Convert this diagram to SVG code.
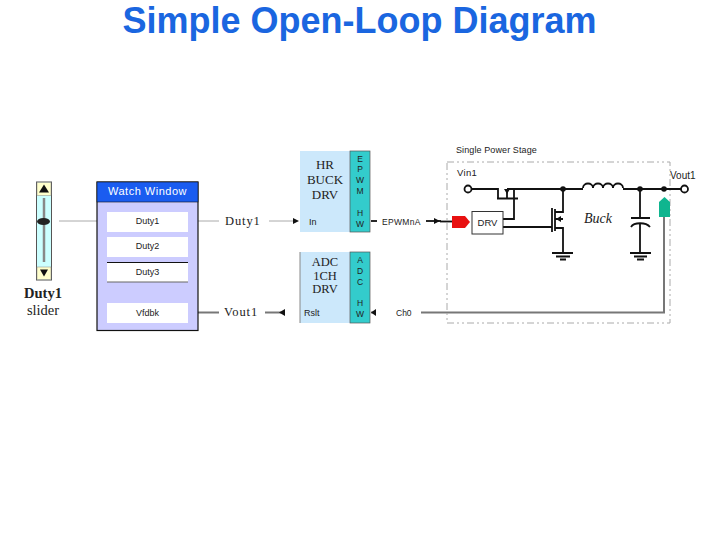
<svg xmlns="http://www.w3.org/2000/svg" width="720" height="540" viewBox="0 0 720 540">
<style>
.s{font-family:"Liberation Serif",serif;fill:#222}
.a{font-family:"Liberation Sans",sans-serif;fill:#222}
.w{stroke:#111;stroke-width:1.800;fill:none}
.g{stroke:#777;stroke-width:2;fill:none}
.t{stroke:#aaa;stroke-width:1;fill:none}
.h{fill:#111}
.box{fill:#fff}
</style>
<rect width="720" height="540" fill="#fff"/>
<text x="359.500" y="33" text-anchor="middle" font-family="Liberation Sans, sans-serif" font-weight="bold" font-size="36" fill="#1a66e0">Simple Open-Loop Diagram</text>

<g id="connectors">
<path class="t" d="M59 221H100"/><path class="h" d="M100 218l6 3-6 3z"/>
<path class="t" d="M188 221H219"/>
<path class="g" d="M188 312.500H219"/>
<path class="t" d="M269 221H294"/><path class="h" d="M293 218l6 3-6 3z"/>
<path class="g" d="M265 312.500H281"/><path class="h" d="M285 309l-6 3.500 6 3.500z"/>
<path class="w" d="M371 221H377"/>
<path class="w" d="M426 221H441"/><path class="h" d="M434 218l6 3-6 3z"/>
<path class="w" d="M440 221.500H453"/>
<path class="g" d="M371 312.500H376"/><path class="h" d="M376 309l-5 3.500 5 3.500z"/>
<path class="g" d="M421 312.500H664V217"/>
</g>

<g id="slider">
<rect x="36.500" y="182" width="15" height="98" fill="#ccffff" stroke="#555"/>
<rect x="37" y="182.500" width="14" height="13" fill="#ffffcc" stroke="#888" stroke-width=".5"/>
<rect x="37" y="267" width="14" height="12.500" fill="#ffffcc" stroke="#888" stroke-width=".5"/>
<path class="h" d="M44 184.500l5 8h-10z"/><path class="h" d="M40 269.500h8l-4 7z"/>
<path stroke="#888" stroke-width="2.500" d="M44 198V262"/>
<ellipse cx="43.500" cy="221.500" rx="6.500" ry="3.500" fill="#222"/>
<text class="s" x="43" y="298" text-anchor="middle" font-size="14.500" font-weight="bold">Duty1</text>
<text class="s" x="43" y="315" text-anchor="middle" font-size="14.500">slider</text>
</g>

<g id="watch-window">
<rect x="97" y="182" width="101" height="148.500" fill="#ccccff" stroke="#111" stroke-width="1.200"/>
<rect x="97" y="182" width="101" height="20" fill="#1a5cf0" stroke="#111" stroke-width=".6"/>
<text x="147.500" y="195" text-anchor="middle" font-family="Liberation Sans, sans-serif" font-size="11" fill="#fff" letter-spacing=".5">Watch Window</text>
<rect class="box" x="107" y="212" width="81" height="20"/>
<rect class="box" x="107" y="237" width="81" height="20"/>
<rect class="box" x="107" y="262" width="81" height="20"/>
<path stroke="#111" d="M107 262.500H188"/><path stroke="#666" d="M107 282H188"/>
<rect class="box" x="107" y="303" width="81" height="20"/>
<text class="a" x="147.500" y="224" text-anchor="middle" font-size="9">Duty1</text>
<text class="a" x="147.500" y="249" text-anchor="middle" font-size="9">Duty2</text>
<text class="a" x="147.500" y="275" text-anchor="middle" font-size="9">Duty3</text>
<text class="a" x="147.500" y="316" text-anchor="middle" font-size="9">Vfdbk</text>
</g>

<g id="label-duty1"><text class="s" x="225" y="225" font-size="12.500" letter-spacing=".9">Duty1</text></g>
<g id="label-vout1-left"><text class="s" x="224" y="316" font-size="12.500" letter-spacing=".9">Vout1</text></g>

<g id="hr-buck-drv">
<rect x="300" y="151" width="50" height="81" fill="#cce8fb"/>
<rect x="350" y="151" width="20" height="81" fill="#33cccc" stroke="#555" stroke-width=".7"/>
<text class="s" x="325" y="169" text-anchor="middle" font-size="13">HR</text>
<text class="s" x="325" y="184" text-anchor="middle" font-size="13">BUCK</text>
<text class="s" x="325" y="199" text-anchor="middle" font-size="13">DRV</text>
<text class="a" x="309" y="225" font-size="9" fill="#555">In</text>
<g class="a" font-size="8.500" text-anchor="middle">
<text x="360" y="162">E</text><text x="360" y="172">P</text><text x="360" y="183">W</text><text x="360" y="194">M</text>
<text x="360" y="216">H</text><text x="360" y="227">W</text>
</g>
</g>

<g id="adc-drv">
<rect x="300" y="252" width="50" height="71" fill="#cce8fb"/>
<path stroke="#888" d="M300 252V323"/>
<rect x="350" y="252" width="20" height="71" fill="#33cccc" stroke="#555" stroke-width=".7"/>
<text class="s" x="325" y="266" text-anchor="middle" font-size="12.500">ADC</text>
<text class="s" x="325" y="280" text-anchor="middle" font-size="12.500">1CH</text>
<text class="s" x="325" y="293" text-anchor="middle" font-size="12.500">DRV</text>
<text class="a" x="304" y="316" font-size="9">Rslt</text>
<g class="a" font-size="8.500" text-anchor="middle">
<text x="360" y="263">A</text><text x="360" y="274">D</text><text x="360" y="285">C</text>
<text x="360" y="306">H</text><text x="360" y="317">W</text>
</g>
</g>

<g id="label-epwm"><text class="a" x="382" y="225" font-size="8.500" fill="#444" letter-spacing=".3">EPWMnA</text></g>
<g id="label-ch0"><text class="a" x="396" y="316" font-size="8.500">Ch0</text></g>

<g id="power-stage">
<rect x="447" y="162" width="223" height="161" fill="none" stroke="#aaa" stroke-dasharray="7 3 2 3 2 3"/>
<text class="a" x="456" y="153" font-size="9" fill="#333" letter-spacing=".1">Single Power Stage</text>
<text class="a" x="457" y="176" font-size="9.500" letter-spacing=".3">Vin1</text>
<text class="a" x="670" y="179" font-size="10">Vout1</text>
<text x="584" y="223" font-family="Liberation Serif, serif" font-style="italic" font-size="14" fill="#222">Buck</text>

<path class="w" d="M472 189H498V198M507 189H583"/>
<path class="w" d="M514 189V219H503"/>
<path class="w" d="M497 198.500H518M507 189V198"/>
<path class="h" d="M504 189h6l-3 5z"/>
<path class="w" d="M503 227H552"/>
<path class="w" d="M552 208V232"/><path class="w" d="M555 209V231"/>
<path class="w" d="M555 212H563V189M555 219H563M555 228H563V253"/>
<path class="h" d="M556 219l5-3v6z"/>
<path class="w" d="M552 253H573M556 256.500H570M560 259.500H566"/>
<path class="w" d="M583 188c0-6 10-6 10 0c0-6 10-6 10 0c0-6 10-6 10 0c0-6 10-6 10 0"/>
<path class="w" d="M623 189H681"/>
<path class="w" d="M640 189V218M631 218H650"/>
<path class="w" d="M631 227c3-5 15-5 19 0"/>
<path class="w" d="M640 223V253M630 253H651M634 256.500H647M637 259.500H644"/>
<circle cx="563" cy="189" r="2.800" class="h"/><circle cx="640" cy="189" r="2.800" class="h"/><circle cx="664" cy="189" r="2.800" class="h"/>
<circle cx="468" cy="189" r="3.500" fill="#fff" stroke="#111" stroke-width="1.800"/>
<circle cx="684.500" cy="189" r="3.500" fill="#fff" stroke="#111" stroke-width="1.800"/>
<rect x="472" y="211.500" width="31" height="22.500" fill="#fff" stroke="#333"/>
<text class="a" x="487.500" y="226" text-anchor="middle" font-size="9.500">DRV</text>
<path d="M452 216H465L470 222L465 228H452Z" fill="#e81010"/>
<path d="M659 202L664.500 197L670 202V217H659Z" fill="#0fb58f"/>
</g>
</svg>
